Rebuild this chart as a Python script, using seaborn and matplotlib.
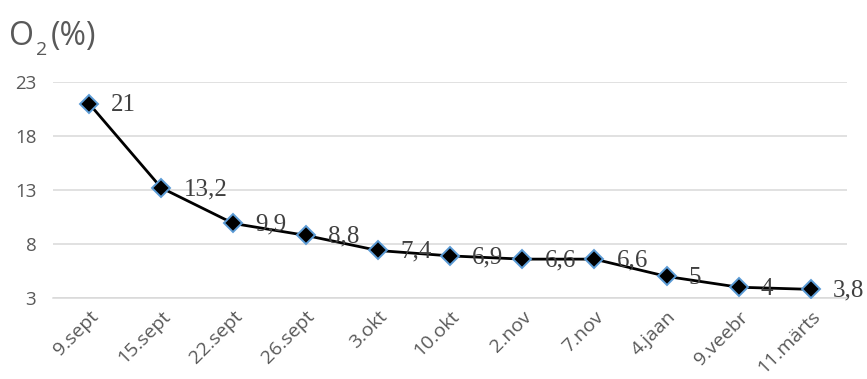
import pandas as pd
import matplotlib.pyplot as plt
import matplotlib.transforms as mtransforms
import seaborn as sns

dates = ['9.sept', '15.sept', '22.sept', '26.sept', '3.okt', '10.okt',
         '2.nov', '7.nov', '4.jaan', '9.veebr', '11.märts']
o2 = [21, 13.2, 9.9, 8.8, 7.4, 6.9, 6.6, 6.6, 5, 4, 3.8]
y_ticks = [3, 8, 13, 18, 23]


def plot_o2():
    df = pd.DataFrame({'date': dates, 'o2': o2})
    sns.set_style('white')
    plt.rcParams['font.family'] = ['Open Sans', 'DejaVu Sans']

    fig = plt.figure(figsize=(8.67, 3.79), dpi=100)
    ax = fig.add_axes([0.0611, 0.2137, 0.9159, 0.570])

    sns.lineplot(data=df, x='date', y='o2', sort=False, ax=ax,
                 color='black', linewidth=2.0, marker='D', markersize=9.5,
                 markerfacecolor='black', markeredgecolor='#5B9BD5',
                 markeredgewidth=1.4, zorder=3)

    ax.set_xlim(-0.5, len(dates) - 0.5)
    ax.set_ylim(3, 23)
    ax.set_yticks(y_ticks)
    ax.set_yticklabels([str(t) for t in y_ticks], fontsize=13.5, color='#595959')
    ax.yaxis.grid(True, color='#d9d9d9', linewidth=1.1)
    ax.set_axisbelow(True)

    ax.set_xticks(range(len(dates)))
    ax.set_xticklabels(dates, rotation=45, ha='right', rotation_mode='anchor',
                       fontsize=14, color='#595959')
    shift = mtransforms.ScaledTranslation(7 / 100, 0, fig.dpi_scale_trans)
    for lab in ax.get_xticklabels():
        lab.set_transform(lab.get_transform() + shift)
    ax.set_xticks([i - 0.5 for i in range(len(dates) + 1)], minor=True)
    ax.tick_params(axis='x', which='major', length=0, pad=7)
    ax.tick_params(axis='x', which='minor', length=5, color='#d9d9d9', width=1.1)
    ax.tick_params(axis='y', length=0, pad=12)

    for s in ['top', 'right', 'left']:
        ax.spines[s].set_visible(False)
    ax.spines['bottom'].set_color('#d9d9d9')
    ax.spines['bottom'].set_linewidth(1.1)
    ax.set_xlabel('')
    ax.set_ylabel('')

    for i, v in enumerate(o2):
        ax.annotate(f'{v:g}'.replace('.', ','), (i, v), xytext=(16, -1),
                    textcoords='offset points', va='center', ha='left',
                    fontsize=18, family='Liberation Serif', color='#404040',
                    annotation_clip=False, zorder=4)

    fig.text(0.010, 0.905, 'O', fontsize=23, color='#595959',
             va='center', ha='left')
    fig.text(0.041, 0.868, '2', fontsize=14, color='#595959',
             va='center', ha='left')
    fig.text(0.059, 0.905, '(%)', fontsize=23, color='#595959',
             va='center', ha='left')

    fig.savefig('out.png', dpi=100)


if __name__ == '__main__':
    plot_o2()
